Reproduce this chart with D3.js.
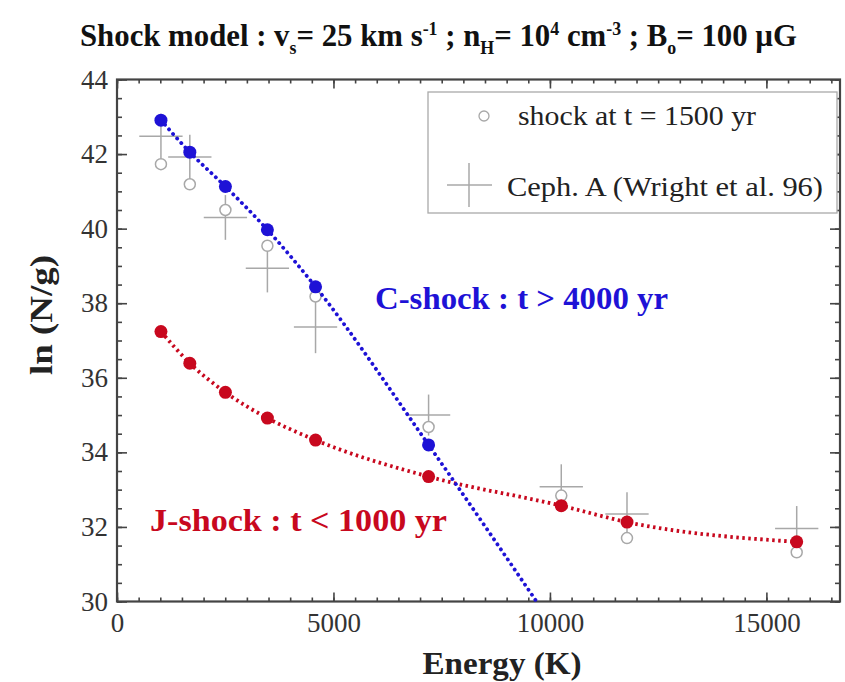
<!DOCTYPE html>
<html><head><meta charset="utf-8">
<script src="https://cdn.jsdelivr.net/npm/d3@7"></script>
<style>
body{margin:0;background:#fff}
svg{display:block}
text{font-family:"Liberation Serif","Times New Roman",serif;}
</style>
</head><body><svg id="chart" width="845" height="682"></svg>
<script>
// ---- data ----
const energies = [1015, 1682, 2504, 3474, 4586, 7197, 10262, 11780, 15700];
const cShockEnergy = [1015, 1682, 2504, 3474, 4586, 7197];
const cShockLnNg = [42.91, 42.05, 41.13, 39.97, 38.44, 34.20];
const cShockLineEnergy = [1015, 1682, 2504, 3474, 4586, 7197, 9690];
const cShockLineLnNg = [42.91, 42.05, 41.13, 39.97, 38.44, 34.20, 30.0];
const jShockLnNg = [37.24, 36.39, 35.61, 34.92, 34.33, 33.35, 32.57, 32.13, 31.60];
const shock1500LnNg = [41.73, 41.19, 40.50, 39.54, 38.18, 34.68, 32.84, 31.70, 31.32];
const cephALnNg = [42.48, 41.92, 40.30, 38.94, 37.36, 35.00, 33.08, 32.35, 31.96];
const cephAErrLn = [0.6, 0.6, 0.6, 0.65, 0.7, 0.55, 0.6, 0.58, 0.6];
const cephAErrE = [500, 500, 500, 500, 500, 500, 500, 500, 500];
const xMajorTicks = [0, 5000, 10000, 15000];
const yMajorTicks = [30, 32, 34, 36, 38, 40, 42, 44];
const legendLabels = ["shock at t = 1500 yr", "Ceph. A (Wright et al. 96)"];

const BLUE = "#1e12d6", RED = "#c8081e", GREY = "#a8a8a8", AXIS = "#444";

const svg = d3.select("#chart");
const L = 117, R = 840, T = 79.5, B = 601.5;
const x = d3.scaleLinear().domain([0, 16700]).range([L, R]);
const y = d3.scaleLinear().domain([30, 44]).range([B, T]);

const xMinor = d3.range(0, 16701, 500);
const yMinor = d3.range(30, 44.01, 0.5);

function styleAxis(g){
  g.select(".domain").remove();
  g.selectAll("line").attr("stroke", AXIS).attr("stroke-width", 1.6);
  g.selectAll("text").attr("fill", "#333").attr("font-size", 27)
    .attr("font-family", '"Liberation Serif","Times New Roman",serif');
}
// bottom
svg.append("g").attr("transform", `translate(0,${B})`)
  .call(d3.axisBottom(x).tickValues(xMinor).tickSize(-4).tickFormat(""))
  .call(styleAxis);
svg.append("g").attr("transform", `translate(0,${B})`)
  .call(d3.axisBottom(x).tickValues(xMajorTicks).tickSize(-9).tickPadding(11).tickFormat(d3.format("d")))
  .call(styleAxis);
// top
svg.append("g").attr("transform", `translate(0,${T})`)
  .call(d3.axisTop(x).tickValues(xMinor).tickSize(-4).tickFormat("")).call(styleAxis);
svg.append("g").attr("transform", `translate(0,${T})`)
  .call(d3.axisTop(x).tickValues(xMajorTicks).tickSize(-9).tickFormat("")).call(styleAxis);
// left
svg.append("g").attr("transform", `translate(${L},0)`)
  .call(d3.axisLeft(y).tickValues(yMinor).tickSize(-5).tickFormat("")).call(styleAxis);
svg.append("g").attr("transform", `translate(${L},0)`)
  .call(d3.axisLeft(y).tickValues(yMajorTicks).tickSize(-10).tickPadding(9).tickFormat(d3.format("d")))
  .call(styleAxis);
// right
svg.append("g").attr("transform", `translate(${R},0)`)
  .call(d3.axisRight(y).tickValues(yMinor).tickSize(-5).tickFormat("")).call(styleAxis);
svg.append("g").attr("transform", `translate(${R},0)`)
  .call(d3.axisRight(y).tickValues(yMajorTicks).tickSize(-10).tickFormat("")).call(styleAxis);

// frame
svg.append("rect").attr("x", L).attr("y", T).attr("width", R - L).attr("height", B - T)
  .attr("fill", "none").attr("stroke", AXIS).attr("stroke-width", 2.2);

// axis titles
svg.append("text").attr("x", 502).attr("y", 674).attr("text-anchor", "middle")
  .attr("font-size", 31).attr("font-weight", "bold").attr("fill", "#222")
  .attr("textLength", 159).attr("lengthAdjust", "spacingAndGlyphs").text("Energy (K)");
svg.append("text").attr("transform", "translate(52,315) rotate(-90)").attr("text-anchor", "middle")
  .attr("font-size", 31).attr("font-weight", "bold").attr("fill", "#222")
  .attr("textLength", 120).attr("lengthAdjust", "spacingAndGlyphs").text("ln (N/g)");

// title
const title = svg.append("text").attr("x", 80).attr("y", 46)
  .attr("font-size", 31).attr("font-weight", "bold").attr("fill", "#111");
const parts = [
  ["Shock model : v", 0], ["s", 1], ["= 25 km s", 0], ["-1", 2], [" ; n", 0], ["H", 1],
  ["= 10", 0], ["4", 2], [" cm", 0], ["-3", 2], [" ; B", 0], ["o", 1], ["= 100 \u00b5G", 0]
];
let prev = 0;
parts.forEach(([t, k]) => {
  const off = k === 1 ? 8 : k === 2 ? -11 : 0;
  title.append("tspan").attr("dy", off - prev).attr("font-size", k ? 18 : 31).text(t);
  prev = off;
});
title.attr("textLength", 717).attr("lengthAdjust", "spacingAndGlyphs");

// Ceph A crosses
const gC = svg.append("g").attr("stroke", GREY).attr("stroke-width", 1.5);
energies.forEach((e, i) => {
  gC.append("line").attr("x1", x(e - cephAErrE[i])).attr("x2", x(e + cephAErrE[i]))
    .attr("y1", y(cephALnNg[i])).attr("y2", y(cephALnNg[i]));
  gC.append("line").attr("x1", x(e)).attr("x2", x(e))
    .attr("y1", y(cephALnNg[i] - cephAErrLn[i])).attr("y2", y(cephALnNg[i] + cephAErrLn[i]));
});

// open circles (t = 1500 yr)
svg.append("g").selectAll("circle").data(energies).join("circle")
  .attr("cx", d => x(d)).attr("cy", (d, i) => y(shock1500LnNg[i])).attr("r", 5.5)
  .attr("fill", "#fff").attr("stroke", GREY).attr("stroke-width", 1.5);

// lines
const lineGen = d3.line().x(d => x(d[0])).y(d => y(d[1])).curve(d3.curveMonotoneX);
svg.append("path").datum(energies.map((e, i) => [e, jShockLnNg[i]]))
  .attr("d", lineGen).attr("fill", "none").attr("stroke", RED).attr("stroke-width", 3.8)
  .attr("stroke-dasharray", "2.5 3.5").attr("stroke-linecap", "butt");
svg.append("path").datum(cShockLineEnergy.map((e, i) => [e, cShockLineLnNg[i]]))
  .attr("d", lineGen).attr("fill", "none").attr("stroke", BLUE).attr("stroke-width", 3.8)
  .attr("stroke-dasharray", "0.1 6").attr("stroke-linecap", "round");

// filled dots
svg.append("g").selectAll("circle").data(energies).join("circle")
  .attr("cx", d => x(d)).attr("cy", (d, i) => y(jShockLnNg[i])).attr("r", 6.5).attr("fill", RED);
svg.append("g").selectAll("circle").data(cShockEnergy).join("circle")
  .attr("cx", d => x(d)).attr("cy", (d, i) => y(cShockLnNg[i])).attr("r", 6.5).attr("fill", BLUE);

// annotations
svg.append("text").attr("x", 375).attr("y", 309).attr("font-size", 31).attr("font-weight", "bold")
  .attr("fill", BLUE).attr("textLength", 293).attr("lengthAdjust", "spacingAndGlyphs")
  .text("C-shock : t > 4000 yr");
svg.append("text").attr("x", 150).attr("y", 531).attr("font-size", 31).attr("font-weight", "bold")
  .attr("fill", RED).attr("textLength", 297).attr("lengthAdjust", "spacingAndGlyphs")
  .text("J-shock : t < 1000 yr");

// legend
const lg = svg.append("g");
lg.append("rect").attr("x", 428).attr("y", 92).attr("width", 409).attr("height", 121)
  .attr("fill", "#fff").attr("stroke", "#aaa").attr("stroke-width", 1.3);
lg.append("circle").attr("cx", 484).attr("cy", 116).attr("r", 5).attr("fill", "#fff")
  .attr("stroke", GREY).attr("stroke-width", 1.3);
lg.append("line").attr("x1", 447).attr("x2", 492).attr("y1", 185).attr("y2", 185).attr("stroke", GREY).attr("stroke-width", 1.5);
lg.append("line").attr("x1", 469).attr("x2", 469).attr("y1", 163).attr("y2", 207).attr("stroke", GREY).attr("stroke-width", 1.5);
lg.append("text").attr("x", 518).attr("y", 125).attr("font-size", 27).attr("fill", "#222")
  .attr("textLength", 238).attr("lengthAdjust", "spacingAndGlyphs").text(legendLabels[0]);
lg.append("text").attr("x", 507).attr("y", 196).attr("font-size", 27).attr("fill", "#222")
  .attr("textLength", 316).attr("lengthAdjust", "spacingAndGlyphs").text(legendLabels[1]);
</script>
</body></html>
